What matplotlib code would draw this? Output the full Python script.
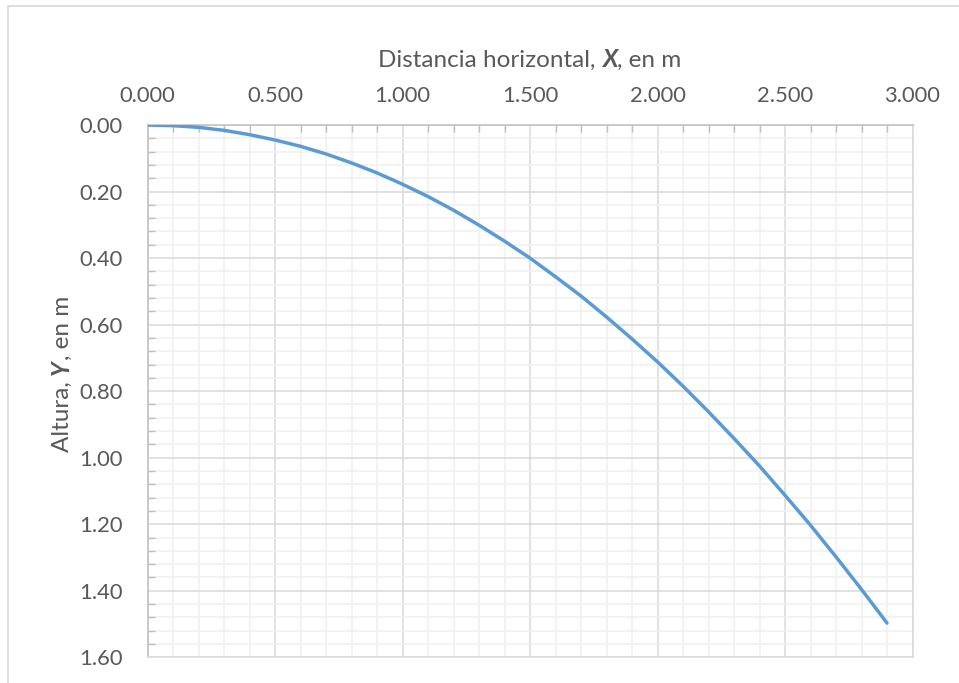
import matplotlib
matplotlib.use("Agg")
import matplotlib.pyplot as plt
from matplotlib.patches import Rectangle
from matplotlib.ticker import MultipleLocator, FormatStrFormatter

# Perfil: distancia horizontal X (m) y altura Y (m)
distancia_x = [0.0, 0.1, 0.2, 0.3, 0.4, 0.5, 0.6, 0.7, 0.8, 0.9,
               1.0, 1.1, 1.2, 1.3, 1.4, 1.5, 1.6, 1.7, 1.8, 1.9,
               2.0, 2.1, 2.2, 2.3, 2.4, 2.5, 2.6, 2.7, 2.8, 2.9]
altura_y = [0.000, 0.002, 0.007, 0.016, 0.029, 0.045, 0.064, 0.087, 0.114, 0.144,
            0.178, 0.215, 0.256, 0.301, 0.349, 0.400, 0.456, 0.514, 0.577, 0.643,
            0.712, 0.785, 0.862, 0.942, 1.025, 1.113, 1.203, 1.298, 1.396, 1.497]

TEXTO = "#595959"
FUENTE = ["Lato", "DejaVu Sans"]
plt.rcParams["font.family"] = FUENTE

ANCHO, ALTO = 959, 683
fig = plt.figure(figsize=(ANCHO / 100, ALTO / 100), dpi=100)
ax = fig.add_axes([147.5 / ANCHO, 1 - 657.3 / ALTO, 765 / ANCHO, 532.3 / ALTO])

ax.plot(distancia_x, altura_y, color="#5b9bd5", lw=2.5, solid_capstyle="round", zorder=3)

ax.set_xlim(0, 3.0)
ax.set_ylim(1.6, 0)
ax.xaxis.set_major_locator(MultipleLocator(0.5))
ax.xaxis.set_minor_locator(MultipleLocator(0.1))
ax.yaxis.set_major_locator(MultipleLocator(0.2))
ax.yaxis.set_minor_locator(MultipleLocator(0.04))
ax.xaxis.set_major_formatter(FormatStrFormatter("%.3f"))
ax.yaxis.set_major_formatter(FormatStrFormatter("%.2f"))

ax.xaxis.tick_top()
ax.tick_params(which="major", length=0, labelsize=15.8, labelcolor=TEXTO)
ax.tick_params(axis="x", which="major", pad=14)
ax.tick_params(axis="y", which="major", pad=18)
ax.tick_params(which="minor", direction="in", length=5, color="#bfbfbf", width=1)
ax.tick_params(axis="x", which="minor", top=True, bottom=False)
ax.tick_params(axis="y", which="minor", left=True, right=False)

ax.grid(which="major", color="#d9d9d9", lw=1.1)
ax.grid(which="minor", color="#f0f0f0", lw=1.1)
ax.set_axisbelow(True)
for lado, spine in ax.spines.items():
    spine.set_color("#bfbfbf" if lado in ("left", "top") else "#d9d9d9")
    spine.set_linewidth(1.1)

# marco exterior del gráfico
fig.patches.append(Rectangle((8 / ANCHO, -0.05), 1.0, 1 - 6 / ALTO + 0.05,
                             transform=fig.transFigure, fill=False,
                             edgecolor="#d9d9d9", lw=1.2))


def texto_mixto(x, y, partes, rotacion=0, size=17.5):
    """Escribe un rótulo por partes (normal / negrita cursiva) centrado en (x, y) px."""
    fig.canvas.draw()
    render = fig.canvas.get_renderer()
    trozos = []
    for cadena, estilo in partes:
        t = fig.text(0, 0, cadena, fontsize=size, color=TEXTO, family=FUENTE,
                     fontweight="bold" if estilo else "normal",
                     fontstyle="italic" if estilo else "normal",
                     rotation=rotacion, ha="left", va="baseline",
                     rotation_mode="anchor", transform=None)
        caja = t.get_window_extent(render)
        trozos.append((t, caja.width if rotacion == 0 else caja.height))
    total = sum(l for _, l in trozos)
    avance = -total / 2
    alto_px = size * 100 / 72 * 0.35
    for t, largo in trozos:
        if rotacion == 0:
            t.set_position((x + avance, ALTO - y - alto_px))
        else:
            t.set_position((x + alto_px, ALTO - y + avance))
        avance += largo


texto_mixto(529.5, 58, [("Distancia horizontal, ", False), ("X", True), (", en m", False)])
texto_mixto(60, 374, [("Altura, ", False), ("Y", True), (", en m", False)], rotacion=90)

fig.savefig("out.png", dpi=100)
